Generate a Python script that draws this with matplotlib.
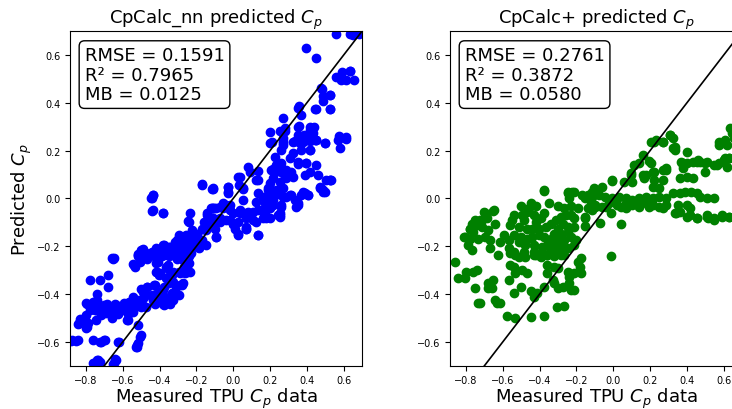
import numpy as np
import matplotlib
matplotlib.use("Agg")
import matplotlib.pyplot as plt

# measured vs predicted Cp
# CpCalc_nn (left panel): (measured, predicted)
nn_points = np.array([
    (0.556, 0.69), (0.632, 0.69), (0.651, 0.685), (0.686, 0.69),
    (0.394, 0.629), (0.452, 0.588),
    (0.593, 0.528), (0.632, 0.535), (0.557, 0.507), (0.587, 0.497), (0.611, 0.494), (0.654, 0.497),
    (0.478, 0.461), (0.484, 0.458), (0.488, 0.427), (0.488, 0.406), (0.528, 0.434),
    (0.358, 0.388), (0.352, 0.378), (0.370, 0.350), (0.448, 0.374), (0.528, 0.374),
    (0.271, 0.336),
    (0.358, 0.302), (0.437, 0.299), (0.416, 0.285), (0.434, 0.274), (0.352, 0.267), (0.385, 0.267),
    (0.407, 0.260), (0.425, 0.253), (0.452, 0.246),
    (0.253, 0.281), (0.280, 0.281),
    (0.575, 0.260), (0.611, 0.256), (0.578, 0.209),
    (0.208, 0.235), (0.271, 0.239), (0.334, 0.239), (0.361, 0.232), (0.497, 0.232),
    (0.198, 0.234), (0.271, 0.23), (0.325, 0.235), (0.361, 0.24), (0.415, 0.24), (0.451, 0.245),
    (0.497, 0.23), (0.569, 0.245), (0.611, 0.25),
    (0.262, 0.202), (0.325, 0.189), (0.415, 0.202),
    (0.225, 0.175), (0.262, 0.147), (0.307, 0.168), (0.352, 0.154), (0.397, 0.147), (0.451, 0.14),
    (0.207, 0.119), (0.262, 0.112), (0.307, 0.105), (0.216, 0.084), (0.253, 0.07), (0.289, 0.084),
    (0.388, 0.098), (0.533, 0.077), (0.469, 0.049), (0.497, 0.028),
    (0.135, 0.077), (0.090, 0.112), (0.036, 0.091), (-0.027, 0.049), (-0.109, 0.042), (-0.027, 0.021),
    (0.054, 0.042), (0.135, 0.021), (0.162, 0.007), (0.189, 0.035), (0.207, 0.014), (0.234, 0.035),
    (0.216, -0.007),
    (0.271, 0.007), (0.307, 0.014), (0.334, -0.007), (0.379, 0.028), (0.406, 0.014), (0.352, -0.021),
    (0.262, -0.028), (0.198, -0.042), (0.253, -0.063), (0.253, -0.077), (0.343, -0.035), (0.153, -0.049),
    (0.108, -0.056), (0.072, -0.063), (0.036, -0.063), (-0.018, -0.049), (-0.055, -0.042), (-0.091, -0.042),
    (-0.118, -0.042), (-0.109, -0.084), (-0.073, -0.098), (-0.037, -0.091), (0.0, -0.105), (0.027, -0.098),
    (0.072, -0.119), (0.126, -0.098), (0.162, -0.084), (0.198, -0.084), (0.244, -0.070), (-0.091, -0.160),
    (0.027, -0.153), (0.135, -0.153), (0.072, -0.126), (0.009, -0.126), (-0.127, -0.112), (-0.100, -0.126),
    (-0.055, -0.021), (-0.018, -0.028), (0.054, -0.007), (0.126, -0.014), (0.171, -0.021), (0.207, -0.007),
    (0.226, 0.014), (0.189, 0.007),
    (0.470, 0.042), (0.488, 0.028), (0.506, 0.077), (0.524, 0.077),
    (0.226, 0.112), (0.217, 0.125), (0.235, 0.139), (0.262, 0.132), (0.289, 0.118), (0.280, 0.091),
    (0.316, 0.112), (0.325, 0.091),
    (0.271, 0.042), (0.226, 0.021), (0.189, 0.042), (0.198, 0.063),
    (0.081, 0.130), (0.135, 0.115), (0.126, 0.077), (0.026, 0.091), (0.03, 0.056), (-0.169, 0.059),
    (-0.109, 0.039), (-0.028, 0.049), (-0.028, 0.025), (0.054, 0.039), (-0.438, 0.014), (-0.447, 0.0),
    (0.253, 0.028), (0.289, 0.007), (0.316, 0.014), (0.370, 0.014), (0.388, 0.021), (0.406, 0.014),
    (0.460, 0.098), (0.478, 0.042), (0.487, 0.035), (0.527, 0.077), (0.352, 0.143), (0.397, 0.147),
    (0.415, 0.112), (0.379, 0.237), (0.393, 0.244), (0.406, 0.251), (0.433, 0.251), (0.442, 0.244),
    (0.415, 0.203), (0.370, 0.203), (0.271, 0.254), (0.271, 0.223), (0.198, 0.279), (0.280, 0.293),
    (0.352, 0.30), (0.415, 0.30), (0.424, 0.286), (0.442, 0.373), (0.524, 0.373), (0.527, 0.433),
    (0.636, 0.533),
    (-0.168, 0.058), (-0.113, 0.039), (-0.442, 0.003), (-0.435, 0.014), (-0.439, -0.052), (-0.381, -0.060),
    (-0.236, -0.063), (-0.244, -0.095), (-0.122, -0.042), (-0.104, -0.039), (-0.140, -0.070), (-0.159, -0.098),
    (-0.113, -0.084), (-0.149, -0.133), (-0.104, -0.112),
    (-0.222, -0.133), (-0.195, -0.147), (-0.168, -0.126), (-0.258, -0.154), (-0.294, -0.151), (-0.303, -0.175),
    (-0.276, -0.182), (-0.249, -0.175), (-0.222, -0.168), (-0.195, -0.182), (-0.168, -0.175), (-0.150, -0.195),
    (-0.186, -0.209), (-0.222, -0.202), (-0.258, -0.202), (-0.312, -0.209), (-0.348, -0.202), (-0.376, -0.195),
    (-0.367, -0.223), (-0.403, -0.230), (-0.439, -0.230), (-0.475, -0.230), (-0.502, -0.216), (-0.520, -0.237),
    (-0.421, -0.209), (-0.330, -0.237), (-0.276, -0.237), (-0.231, -0.230), (-0.656, -0.251),
    (-0.438, -0.049), (-0.380, -0.061), (-0.242, -0.098), (-0.145, -0.063), (-0.109, -0.042), (-0.073, -0.035),
    (-0.037, -0.028), (-0.073, -0.084), (-0.019, -0.091), (-0.001, -0.105), (0.026, -0.147), (0.071, -0.126),
    (0.135, -0.154), (-0.091, -0.161), (-0.163, -0.126), (0.035, -0.049), (0.081, -0.056), (0.135, -0.049),
    (0.180, -0.049), (0.216, -0.028), (0.262, -0.035), (0.253, -0.070), (0.180, -0.084), (0.108, -0.091),
    (0.071, -0.084), (0.352, -0.028), (-0.001, -0.063), (0.054, -0.063),
    (-0.489, -0.210), (-0.444, -0.224), (-0.408, -0.231), (-0.380, -0.196), (-0.362, -0.224), (-0.344, -0.203),
    (-0.317, -0.182), (-0.290, -0.196), (-0.263, -0.175), (-0.236, -0.182), (-0.209, -0.189), (-0.191, -0.203),
    (-0.254, -0.217), (-0.281, -0.231), (-0.308, -0.252), (-0.272, -0.259), (-0.245, -0.273), (-0.408, -0.266),
    (-0.417, -0.307), (-0.399, -0.314), (-0.362, -0.293), (-0.353, -0.328), (-0.326, -0.307), (-0.290, -0.314),
    (-0.263, -0.314), (-0.236, -0.307), (-0.353, -0.280), (-0.507, -0.266), (-0.471, -0.252), (-0.516, -0.231),
    (-0.543, -0.273), (-0.534, -0.287), (-0.652, -0.252),
    (-0.326, -0.349), (-0.290, -0.363), (-0.272, -0.356), (-0.380, -0.384), (-0.371, -0.412), (-0.362, -0.433),
    (-0.344, -0.440), (-0.326, -0.426), (-0.417, -0.398), (-0.399, -0.426), (-0.380, -0.440), (-0.471, -0.370),
    (-0.426, -0.363), (-0.489, -0.391), (-0.480, -0.405), (-0.435, -0.426), (-0.426, -0.440), (-0.498, -0.426),
    (-0.525, -0.440), (-0.543, -0.468), (-0.570, -0.482), (-0.579, -0.510), (-0.561, -0.440), (-0.643, -0.440),
    (-0.634, -0.461), (-0.625, -0.482), (-0.688, -0.440), (-0.706, -0.454), (-0.679, -0.468), (-0.724, -0.461),
    (-0.742, -0.426), (-0.760, -0.440), (-0.778, -0.468), (-0.751, -0.468), (-0.796, -0.440), (-0.800, -0.489),
    (-0.814, -0.510), (-0.832, -0.503), (-0.841, -0.524), (-0.796, -0.538), (-0.778, -0.342), (-0.724, -0.342),
    (-0.681, -0.321), (-0.681, -0.370), (-0.742, -0.398), (-0.841, -0.593), (-0.877, -0.593), (-0.764, -0.593),
    (-0.724, -0.600), (-0.697, -0.593), (-0.625, -0.600), (-0.525, -0.621), (-0.525, -0.614), (-0.507, -0.579),
    (-0.742, -0.677), (-0.724, -0.684), (-0.643, -0.674), (-0.652, -0.691),
    (-0.647, -0.251), (-0.538, -0.279), (-0.520, -0.24), (-0.475, -0.24), (-0.430, -0.24), (-0.385, -0.24),
    (-0.348, -0.24), (-0.312, -0.24), (-0.276, -0.24), (-0.240, -0.24),
    (-0.421, -0.272), (-0.367, -0.286), (-0.412, -0.307), (-0.403, -0.321), (-0.367, -0.335), (-0.330, -0.321),
    (-0.294, -0.307), (-0.267, -0.286), (-0.240, -0.272), (-0.249, -0.307),
    (-0.502, -0.381), (-0.466, -0.369), (-0.430, -0.362), (-0.403, -0.390), (-0.376, -0.369), (-0.348, -0.356),
    (-0.312, -0.369), (-0.276, -0.362), (-0.330, -0.397), (-0.367, -0.425), (-0.376, -0.446), (-0.294, -0.404),
    (-0.547, -0.411), (-0.565, -0.432), (-0.511, -0.425), (-0.484, -0.411), (-0.439, -0.404), (-0.430, -0.439),
    (-0.475, -0.453), (-0.529, -0.446), (-0.502, -0.453),
    (-0.800, -0.439), (-0.764, -0.432), (-0.773, -0.460), (-0.728, -0.453), (-0.701, -0.446), (-0.692, -0.481),
    (-0.638, -0.446), (-0.647, -0.474), (-0.593, -0.439), (-0.602, -0.467), (-0.565, -0.460), (-0.565, -0.481),
    (-0.547, -0.474), (-0.719, -0.488), (-0.674, -0.467), (-0.746, -0.467),
    (-0.819, -0.509), (-0.837, -0.523), (-0.791, -0.523), (-0.800, -0.544), (-0.746, -0.509), (-0.656, -0.502),
    (-0.574, -0.509), (-0.520, -0.530),
    (-0.502, -0.572), (-0.520, -0.607), (-0.526, -0.621),
    (-0.855, -0.595), (-0.882, -0.595), (-0.719, -0.600), (-0.701, -0.593), (-0.620, -0.600),
    (-0.737, -0.676), (-0.638, -0.676), (-0.647, -0.690), (-0.764, -0.690),
])

# CpCalc+ (right panel): (measured, predicted)
plus_points = np.array([
    (-0.376, 0.035), (-0.244, 0.025), (-0.214, 0.025), (-0.238, 0.0), (-0.156, 0.0), (-0.137, 0.014),
    (-0.101, 0.021), (-0.119, -0.014), (-0.101, -0.035), (-0.137, -0.042), (-0.152, -0.084), (-0.156, -0.115),
    (-0.449, -0.021), (-0.468, -0.056), (-0.495, -0.070), (-0.486, -0.091), (-0.431, -0.070), (-0.376, -0.063),
    (-0.394, -0.084), (-0.422, -0.098), (-0.541, -0.070), (-0.550, -0.091), (-0.559, -0.112), (-0.513, -0.119),
    (-0.468, -0.126), (-0.440, -0.126), (-0.403, -0.126), (-0.367, -0.119), (-0.339, -0.105), (-0.312, -0.091),
    (-0.284, -0.077), (-0.257, -0.070), (-0.229, -0.070), (-0.211, -0.084), (-0.275, -0.105), (-0.247, -0.119),
    (-0.211, -0.119), (-0.303, -0.126), (-0.321, -0.147), (-0.284, -0.147), (-0.247, -0.140), (-0.229, -0.161),
    (-0.266, -0.175), (-0.303, -0.175), (-0.339, -0.168), (-0.376, -0.161), (-0.403, -0.154), (-0.440, -0.161),
    (-0.468, -0.168), (-0.504, -0.161), (-0.513, -0.182), (-0.477, -0.195), (-0.431, -0.195), (-0.385, -0.202),
    (-0.358, -0.195), (-0.321, -0.195), (-0.284, -0.202), (-0.247, -0.209), (-0.211, -0.195), (-0.202, -0.175),
    (-0.541, -0.154), (-0.569, -0.175), (-0.596, -0.154), (-0.614, -0.182), (-0.569, -0.209), (-0.541, -0.223),
    (-0.486, -0.223), (-0.431, -0.223), (-0.385, -0.223), (-0.339, -0.216), (-0.303, -0.223), (-0.266, -0.237),
    (-0.358, -0.237), (-0.422, -0.237),
    (-0.651, -0.053), (-0.697, -0.063), (-0.688, -0.084), (-0.725, -0.091), (-0.752, -0.091), (-0.770, -0.105),
    (-0.743, -0.112), (-0.715, -0.119), (-0.780, -0.126), (-0.679, -0.133), (-0.642, -0.109), (-0.761, -0.140),
    (-0.807, -0.161), (-0.780, -0.168), (-0.734, -0.168), (-0.697, -0.161), (-0.669, -0.175), (-0.789, -0.195),
    (-0.770, -0.216), (-0.669, -0.209), (-0.624, -0.237),
    (-0.703, -0.056), (-0.648, -0.049), (-0.776, -0.126), (-0.721, -0.098), (-0.813, -0.161),
    (-0.862, -0.265), (-0.844, -0.335), (-0.807, -0.335), (-0.798, -0.307), (-0.761, -0.307), (-0.743, -0.300),
    (-0.752, -0.376), (-0.679, -0.356), (-0.679, -0.376), (-0.651, -0.342), (-0.660, -0.376), (-0.734, -0.439),
    (-0.725, -0.436), (-0.642, -0.425), (-0.633, -0.439), (-0.618, -0.439),
    (-0.559, -0.230), (-0.532, -0.237), (-0.513, -0.244), (-0.477, -0.244), (-0.431, -0.237),
    (-0.394, -0.244), (-0.358, -0.237), (-0.321, -0.241), (-0.284, -0.237),
    (-0.559, -0.279), (-0.541, -0.286), (-0.532, -0.314), (-0.495, -0.300), (-0.468, -0.314), (-0.569, -0.342),
    (-0.504, -0.369), (-0.541, -0.397), (-0.449, -0.386), (-0.431, -0.411), (-0.413, -0.397), (-0.376, -0.369),
    (-0.358, -0.314), (-0.358, -0.279), (-0.321, -0.286), (-0.303, -0.293), (-0.330, -0.342), (-0.321, -0.356),
    (-0.303, -0.376), (-0.275, -0.369), (-0.247, -0.307), (-0.238, -0.328), (-0.211, -0.314), (-0.174, -0.314),
    (-0.192, -0.265), (-0.174, -0.251), (-0.183, -0.286), (-0.229, -0.383), (-0.211, -0.383), (-0.238, -0.356),
    (-0.578, -0.492), (-0.532, -0.502), (-0.446, -0.498), (-0.376, -0.492), (-0.306, -0.453), (-0.269, -0.449),
    (-0.015, -0.242), (0.040, -0.105), (-0.070, -0.102),
    (-0.152, -0.077), (-0.116, -0.049), (-0.042, -0.035), (-0.015, -0.063), (0.040, -0.035), (0.068, -0.042),
    (0.141, -0.035), (0.196, -0.035), (0.270, -0.042), (0.343, -0.063), (0.398, -0.077), (0.453, -0.084),
    (0.508, -0.077), (0.545, -0.084), (0.591, -0.077), (0.628, -0.077),
    (0.224, 0.238), (0.269, 0.238), (0.306, 0.265), (0.324, 0.251), (0.324, 0.210), (0.334, 0.203),
    (0.398, 0.196), (0.196, 0.157), (0.141, 0.147), (0.370, 0.154), (0.379, 0.140), (0.398, 0.147),
    (0.379, 0.126), (0.453, 0.154), (0.471, 0.154), (0.499, 0.147), (0.499, 0.112), (0.545, 0.140),
    (0.572, 0.147), (0.600, 0.161), (0.609, 0.168), (0.627, 0.168), (0.618, 0.133), (0.572, 0.224),
    (0.609, 0.245), (0.636, 0.293), (0.645, 0.272), (0.655, 0.251), (0.269, 0.119), (0.288, 0.126),
    (0.224, 0.112), (0.178, 0.098), (0.168, 0.084), (0.224, 0.077), (0.269, 0.077), (0.361, 0.084),
    (0.398, 0.091), (0.434, 0.084), (0.214, 0.049), (0.251, 0.042), (0.104, 0.070), (0.058, 0.070),
    (-0.006, 0.077), (-0.061, 0.049), (0.095, 0.105),
    (-0.116, 0.007), (-0.079, 0.014), (-0.043, 0.007), (-0.006, 0.0), (0.031, 0.007), (0.067, 0.0),
    (0.104, -0.007), (0.141, 0.0), (0.178, 0.007), (0.214, 0.0), (0.251, 0.007), (0.288, 0.0),
    (0.324, 0.021), (0.361, 0.021), (0.389, 0.028), (0.425, 0.028), (0.453, 0.021), (0.471, 0.007),
    (0.508, 0.0), (0.545, 0.0), (-0.098, -0.028), (-0.061, -0.035), (-0.024, -0.021), (0.022, -0.028),
    (0.067, -0.021), (0.104, -0.028), (0.141, -0.028), (0.178, -0.021), (0.214, -0.028), (0.251, -0.035),
    (0.288, -0.028), (0.352, -0.028), (0.398, -0.028), (0.416, -0.042), (0.361, -0.055), (0.416, -0.069),
    (0.453, -0.083), (0.508, -0.069), (0.517, -0.083), (0.545, -0.090), (0.590, -0.069), (0.627, -0.076),
    (0.334, -0.062), (-0.107, 0.042), (-0.088, 0.028),
    (0.306, 0.265), (0.270, 0.237), (0.334, 0.216), (0.206, 0.237), (0.233, 0.244), (0.160, 0.182),
    (0.206, 0.147), (0.114, 0.140), (0.095, 0.098), (0.160, 0.098), (0.215, 0.112), (0.288, 0.119),
    (0.380, 0.147), (0.435, 0.154), (0.462, 0.161), (0.508, 0.154), (0.563, 0.140),
    (0.600, 0.161), (0.628, 0.168), (0.646, 0.286), (0.655, 0.265), (0.618, 0.223), (0.572, 0.237),
    (-0.006, 0.073), (-0.376, 0.032), (-0.244, 0.021), (-0.226, 0.028), (-0.171, 0.014), (-0.116, 0.028),
    (-0.50, -0.03), (-0.46, -0.04), (-0.42, -0.03), (-0.35, -0.02), (-0.30, -0.03), (-0.27, -0.04),
    (-0.23, -0.03), (-0.19, -0.04),
])

titles = ["CpCalc_nn predicted $C_p$", "CpCalc+ predicted $C_p$"]
rmse = [0.1591, 0.2761]
r2 = [0.7965, 0.3872]
mb = [0.0125, 0.0580]
colors = ["blue", "green"]

fig = plt.figure(figsize=(7.32, 4.10), dpi=100)
ax1 = fig.add_axes([0.0956, 0.1056, 0.399, 0.816])
ax2 = fig.add_axes([0.6148, 0.1056, 0.399, 0.816])

for i, (ax, pts) in enumerate(zip([ax1, ax2], [nn_points, plus_points])):
    ax.scatter(pts[:, 0], pts[:, 1], s=36, color=colors[i], zorder=2)
    ax.plot([-1, 1], [-1, 1], color="black", linewidth=1.2, zorder=3)
    ax.set_xlim(-0.887, 0.7)
    ax.set_ylim(-0.7, 0.7)
    ax.set_title(titles[i], fontsize=13)
    ax.set_xlabel("Measured TPU $C_p$ data", fontsize=13, labelpad=0.5)
    ax.tick_params(labelsize=7)
    txt = "RMSE = %.4f\nR² = %.4f\nMB = %.4f" % (rmse[i], r2[i], mb[i])
    ax.text(0.05, 0.955, txt, transform=ax.transAxes, fontsize=13, va="top", ha="left",
            linespacing=1.1,
            bbox=dict(boxstyle="round,pad=0.3", facecolor="white", edgecolor="black"),
            zorder=5)

ax1.set_ylabel("Predicted $C_p$", fontsize=13, labelpad=2)

fig.savefig("out.png", dpi=100)
